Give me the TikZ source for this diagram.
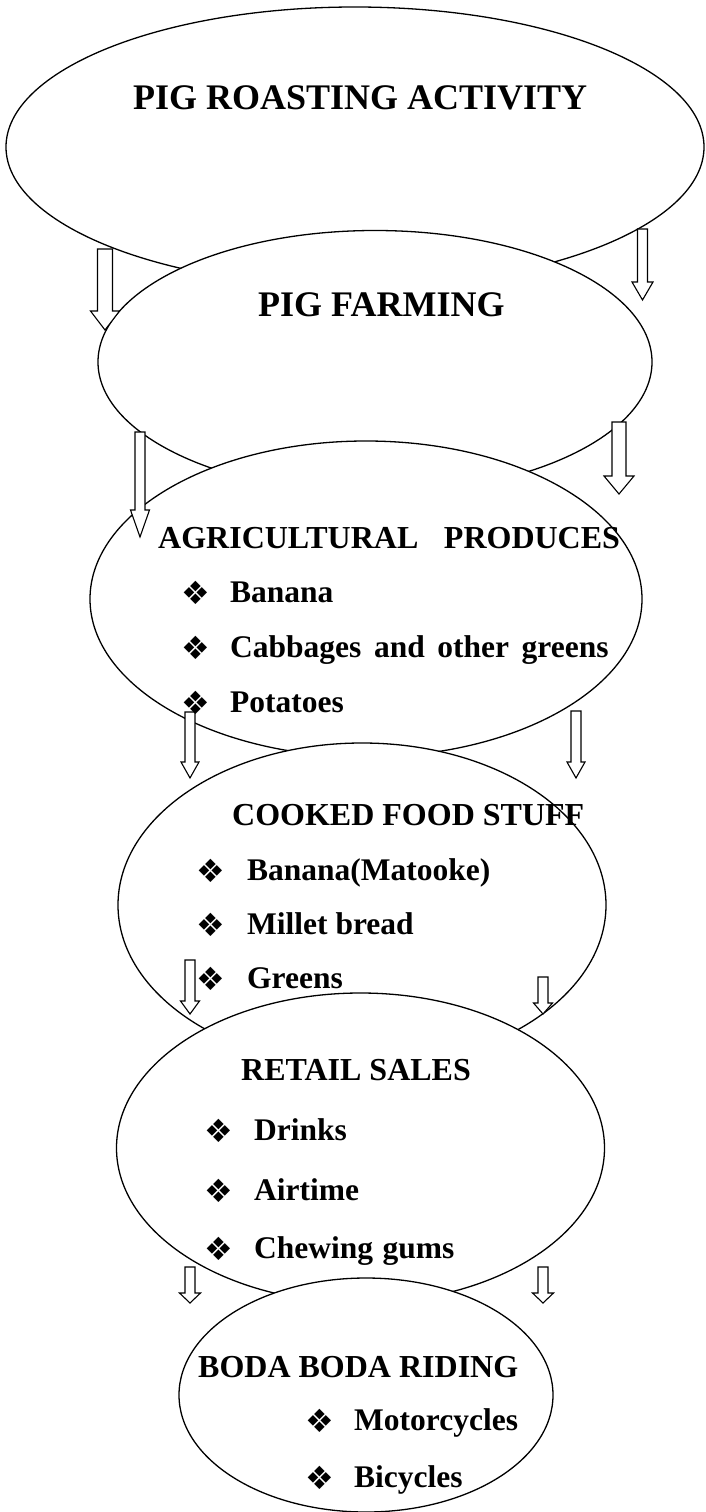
\documentclass[tikz,border=0pt]{standalone}
\usepackage{fontspec}
\setmainfont{Liberation Serif}
\newfontfamily\dejavu{DejaVu Sans}
\usetikzlibrary{shapes.geometric}
\tikzset{
  blob/.style={ellipse, draw, line width=1.3pt, fill=white, inner sep=0pt, outer sep=0pt},
  bighead/.style={anchor=base west, inner sep=0pt, font=\fontsize{36}{42}\selectfont\bfseries},
  headtxt/.style={anchor=base west, inner sep=0pt, font=\fontsize{32}{38}\selectfont\bfseries},
  itemtxt/.style={anchor=base west, inner sep=0pt, font=\fontsize{31.5}{38}\selectfont\bfseries},
  bul/.style={anchor=center, inner sep=0pt, font=\dejavu\fontsize{32}{38}\selectfont},
  blockarrow/.style={draw, line width=1.1pt, fill=white, line join=miter}
}
% #1 x, #2 top, #3 head start, #4 tip, #5 shaft half width, #6 head half width
\newcommand\hollowdown[6]{%
  \draw[blockarrow] ({#1-#5},#2) -- ({#1+#5},#2) -- ({#1+#5},#3) -- ({#1+#6},#3)
    -- (#1,#4) -- ({#1-#6},#3) -- ({#1-#5},#3) -- cycle;}
\begin{document}
\begin{tikzpicture}[x=1pt,y=-1pt]
\useasboundingbox (0,0) rectangle (706,1512);
% ellipses
\node[blob, minimum width=698pt, minimum height=280pt] (e1) at (355,147) {};
\node[blob, minimum width=554pt, minimum height=263pt] (e2) at (375,362) {};
\node[blob, minimum width=552pt, minimum height=316pt] (e3) at (366,599) {};
\node[blob, minimum width=488pt, minimum height=324pt] (e4) at (362,905) {};
\node[blob, minimum width=488pt, minimum height=310pt] (e5) at (360.5,1148) {};
\node[blob, minimum width=374pt, minimum height=234pt] (e6) at (366,1395) {};
% arrows
\hollowdown{105}{249}{311}{330}{7.5}{14.5}
\hollowdown{642.5}{229}{282}{300}{5}{10.5}
\hollowdown{140}{432}{510}{537}{5}{9.5}
\hollowdown{619}{422}{476}{494}{7}{15}
\hollowdown{190}{712}{762}{778}{5}{9}
\hollowdown{576}{711}{762}{778}{5}{9}
\hollowdown{190}{960}{1001}{1014}{5}{9.5}
\hollowdown{543}{977}{1003}{1014}{5}{9.5}
\hollowdown{190}{1267}{1293}{1303}{5}{10.5}
\hollowdown{543}{1267}{1293}{1303}{5}{10.5}
% texts
\node[bighead] (t1) at (133,109) {PIG ROASTING ACTIVITY};
\node[bighead] (t2) at (258,316) {PIG FARMING};
\node[headtxt] (t3) at (158,548) {AGRICULTURAL\hspace{0.8em}PRODUCES};
\node[bul] (b31) at (196,593) {❖};
\node[itemtxt] (i31) at (230,602) {Banana};
\node[bul] (b32) at (196,648) {❖};
\node[itemtxt] (i32) at (230,657) {Cabbages\hspace{0.4em}and\hspace{0.4em}other\hspace{0.4em}greens};
\node[bul] (b33) at (196,703) {❖};
\node[itemtxt] (i33) at (230,712) {Potatoes};
\node[headtxt] (t4) at (232,825) {COOKED FOOD STUFF};
\node[bul] (b41) at (211,871) {❖};
\node[itemtxt] (i41) at (247,880) {Banana(Matooke)};
\node[bul] (b42) at (211,925) {❖};
\node[itemtxt] (i42) at (247,934) {Millet bread};
\node[bul] (b43) at (211,979) {❖};
\node[itemtxt] (i43) at (247,988) {Greens};
\node[headtxt] (t5) at (241,1080) {RETAIL SALES};
\node[bul] (b51) at (219,1131) {❖};
\node[itemtxt] (i51) at (254,1140) {Drinks};
\node[bul] (b52) at (219,1191) {❖};
\node[itemtxt] (i52) at (254,1200) {Airtime};
\node[bul] (b53) at (219,1249) {❖};
\node[itemtxt] (i53) at (254,1258) {Chewing\hspace{0.3em}gums};
\node[headtxt] (t6) at (198,1377) {BODA BODA RIDING};
\node[bul] (b61) at (320,1421) {❖};
\node[itemtxt] (i61) at (354,1430) {Motorcycles};
\node[bul] (b62) at (320,1478) {❖};
\node[itemtxt] (i62) at (354,1487) {Bicycles};
\end{tikzpicture}
\end{document}
